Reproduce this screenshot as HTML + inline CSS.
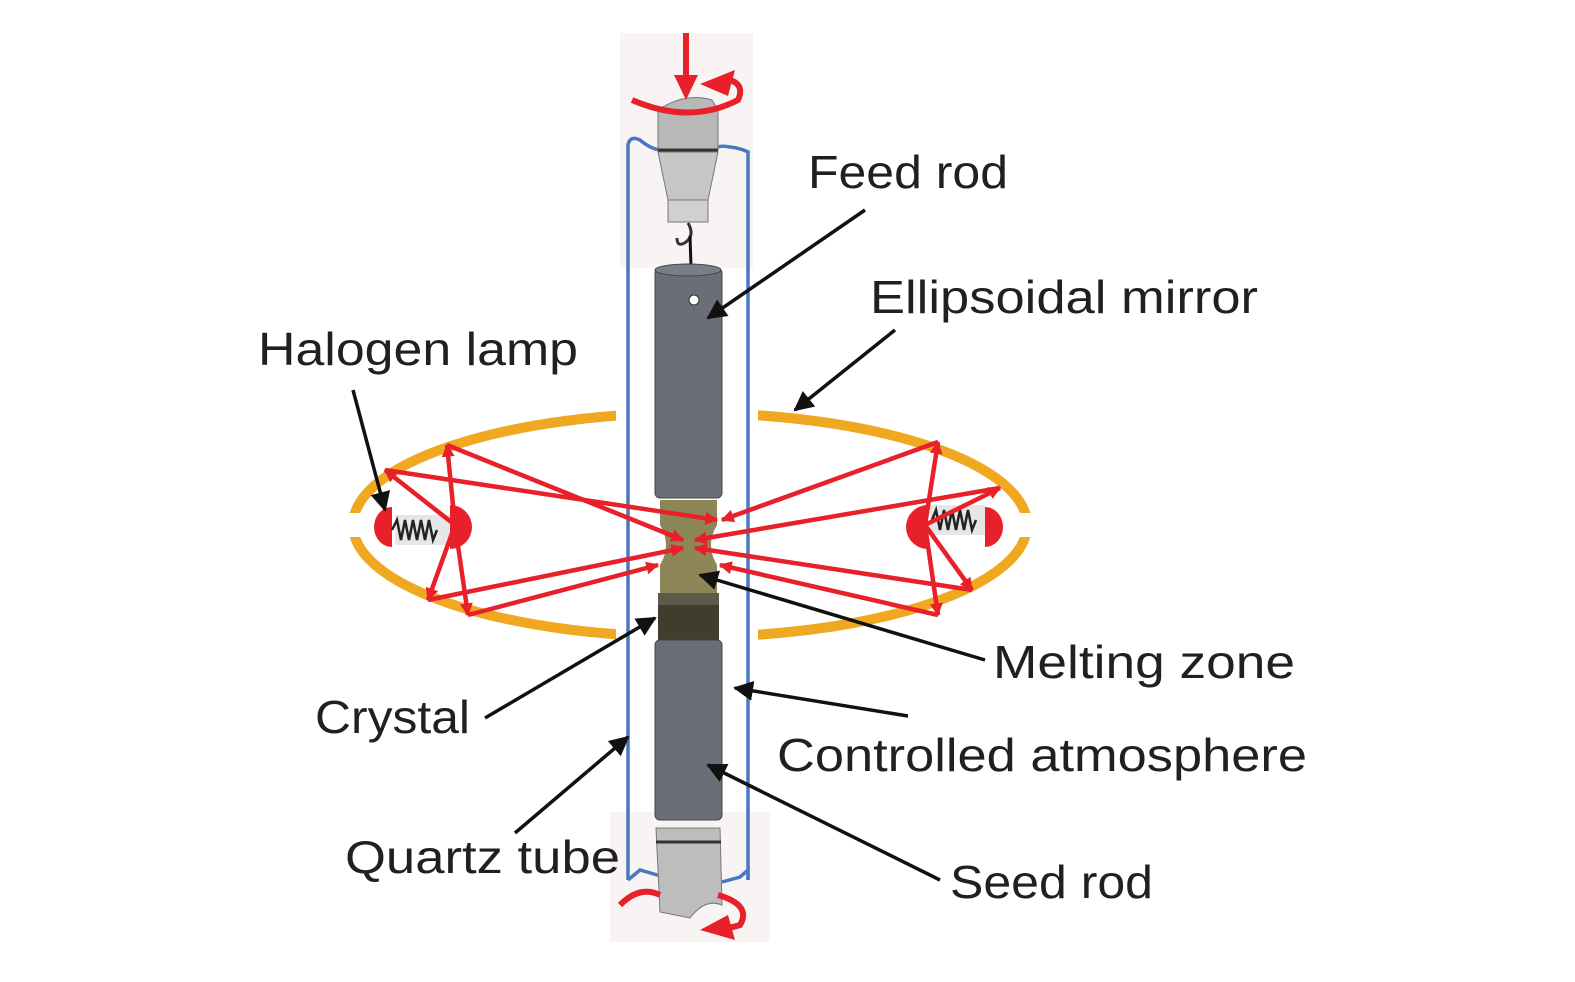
<!DOCTYPE html>
<html><head><meta charset="utf-8"><style>
html,body{margin:0;padding:0;background:#fff;}
svg{display:block;}
text{font-family:"Liberation Sans",sans-serif;font-size:46px;fill:#231f20;}
</style></head><body>
<svg width="1575" height="982" viewBox="0 0 1575 982" xmlns="http://www.w3.org/2000/svg">
<defs>
<marker id="ar" viewBox="0 0 10 10" markerWidth="13" markerHeight="13" refX="9" refY="5" orient="auto" markerUnits="userSpaceOnUse"><path d="M0,0 L10,5 L0,10 Z" fill="#e8202a"/></marker>
<marker id="abk" viewBox="0 0 10 10" markerWidth="20" markerHeight="20" refX="9" refY="5" orient="auto" markerUnits="userSpaceOnUse"><path d="M0,0 L10,5 L0,10 Z" fill="#111"/></marker>
</defs>
<rect x="620" y="33" width="133" height="235" fill="#f8f4f4"/>
<rect x="610" y="812" width="160" height="130" fill="#f8f4f4"/>
<ellipse cx="690" cy="525" rx="337" ry="112" fill="none" stroke="#f0a820" stroke-width="10"/>
<rect x="616" y="395" width="142" height="260" fill="#fff"/>
<rect x="340" y="513" width="40" height="24" fill="#fff"/>
<rect x="1000" y="513" width="40" height="24" fill="#fff"/>
<path d="M628,880 L628,145 Q630,135 640,140 Q652,150 662,150" fill="none" stroke="#4a78c0" stroke-width="3.5"/>
<path d="M748,880 L748,152 Q740,148 730,147 Q720,145 716,148" fill="none" stroke="#4a78c0" stroke-width="3.5"/>
<path d="M628,880 L640,870 L664,877" fill="none" stroke="#4a78c0" stroke-width="3.5"/>
<path d="M748,880 L748,870 L740,877 L722,882" fill="none" stroke="#4a78c0" stroke-width="3.5"/>
<path d="M658,110 Q685,92 712,100 L718,110 L718,150 L658,150 Z" fill="#b8b8b8" stroke="#777" stroke-width="1"/>
<line x1="658" y1="150" x2="718" y2="150" stroke="#333" stroke-width="3"/>
<path d="M658,152 L718,152 L708,200 L668,200 Z" fill="#c6c6c6" stroke="#777"/>
<rect x="668" y="200" width="40" height="22" fill="#d0d0d0" stroke="#777"/>
<path d="M688,223 Q695,235 686,242 Q677,248 677,238" fill="none" stroke="#333" stroke-width="3"/>
<line x1="690" y1="236" x2="692" y2="298" stroke="#111" stroke-width="3"/>
<line x1="686" y1="33" x2="686" y2="80" stroke="#e8202a" stroke-width="6"/>
<path d="M674,75 L698,75 L686,100 Z" fill="#e8202a"/>
<path d="M632,100 Q690,125 738,100 Q745,85 730,80" fill="none" stroke="#e8202a" stroke-width="6"/>
<path d="M700,84 L735,70 L728,96 Z" fill="#e8202a"/>
<rect x="655" y="268" width="67" height="230" rx="5" fill="#6b6e76" stroke="#444"/>
<ellipse cx="688" cy="270" rx="33" ry="6" fill="#7a7d85" stroke="#444"/>
<circle cx="694" cy="300" r="5" fill="#fff" stroke="#333"/>
<path d="M660,500 L717,500 L717,525 Q705,545 717,565 L717,595 L660,595 L660,565 Q672,545 660,525 Z" fill="#8c8659"/>
<rect x="658" y="593" width="61" height="47" fill="#3f3e2d"/>
<rect x="658" y="593" width="61" height="12" fill="#5c5b4a"/>
<rect x="655" y="640" width="67" height="180" rx="5" fill="#6b6e76" stroke="#444"/>
<path d="M656,828 L720,828 L722,905 Q705,898 690,918 L660,912 Z" fill="#bdbdbd" stroke="#777"/>
<line x1="656" y1="842" x2="721" y2="842" stroke="#333" stroke-width="3"/>
<path d="M620,905 Q640,885 660,895" fill="none" stroke="#e8202a" stroke-width="6"/>
<path d="M718,895 Q752,905 740,925 Q725,930 712,928" fill="none" stroke="#e8202a" stroke-width="6"/>
<path d="M700,930 L728,915 L735,940 Z" fill="#e8202a"/>
<rect x="395" y="515" width="55" height="30" fill="#e6e6e6"/>
<rect x="930" y="505" width="55" height="30" fill="#e6e6e6"/>
<path d="M392,507 A18,20 0 0 0 392,547 Z" fill="#e8202a"/>
<path d="M450,505 A22,22 0 0 1 450,549 Z" fill="#e8202a"/>
<path d="M392,530 l5,-10 l4,20 l4,-20 l4,20 l4,-20 l4,20 l4,-20 l4,20 l4,-20 l4,20 l4,-10" fill="none" stroke="#222" stroke-width="2.5"/>
<path d="M928,505 A22,22 0 0 0 928,549 Z" fill="#e8202a"/>
<path d="M985,507 A18,20 0 0 1 985,547 Z" fill="#e8202a"/>
<path d="M932,520 l4,-10 l4,20 l4,-20 l4,20 l4,-20 l4,20 l4,-20 l4,20 l4,-20 l4,20 l4,-10" fill="none" stroke="#222" stroke-width="2.5"/>
<g stroke="#e8202a" stroke-width="4.5" fill="none" marker-end="url(#ar)">
<line x1="455" y1="525" x2="447" y2="445"/>
<line x1="447" y1="445" x2="683" y2="540"/>
<line x1="455" y1="525" x2="385" y2="470"/>
<line x1="385" y1="470" x2="717" y2="520"/>
<line x1="455" y1="525" x2="428" y2="600"/>
<line x1="428" y1="600" x2="683" y2="548"/>
<line x1="455" y1="525" x2="468" y2="615"/>
<line x1="468" y1="615" x2="658" y2="565"/>
<line x1="925" y1="525" x2="938" y2="442"/>
<line x1="938" y1="442" x2="722" y2="520"/>
<line x1="925" y1="525" x2="1000" y2="488"/>
<line x1="1000" y1="488" x2="695" y2="540"/>
<line x1="925" y1="525" x2="972" y2="590"/>
<line x1="972" y1="590" x2="695" y2="548"/>
<line x1="925" y1="525" x2="938" y2="615"/>
<line x1="938" y1="615" x2="720" y2="565"/>
</g>
<g stroke="#111" stroke-width="3.5" marker-end="url(#abk)">
<line x1="865" y1="210" x2="708" y2="318"/>
<line x1="895" y1="330" x2="795" y2="410"/>
<line x1="353" y1="390" x2="385" y2="510"/>
<line x1="985" y1="660" x2="700" y2="575"/>
<line x1="485" y1="718" x2="655" y2="618"/>
<line x1="908" y1="716" x2="735" y2="688"/>
<line x1="515" y1="833" x2="628" y2="737"/>
<line x1="940" y1="880" x2="708" y2="765"/>
</g>
<text x="808" y="188" textLength="200" lengthAdjust="spacingAndGlyphs">Feed rod</text>
<text x="870" y="313" textLength="388" lengthAdjust="spacingAndGlyphs">Ellipsoidal mirror</text>
<text x="258" y="365" textLength="320" lengthAdjust="spacingAndGlyphs">Halogen lamp</text>
<text x="993" y="678" textLength="302" lengthAdjust="spacingAndGlyphs">Melting zone</text>
<text x="315" y="733" textLength="155" lengthAdjust="spacingAndGlyphs">Crystal</text>
<text x="777" y="771" textLength="530" lengthAdjust="spacingAndGlyphs">Controlled atmosphere</text>
<text x="345" y="873" textLength="275" lengthAdjust="spacingAndGlyphs">Quartz tube</text>
<text x="950" y="898" textLength="203" lengthAdjust="spacingAndGlyphs">Seed rod</text>
</svg>
</body></html>
